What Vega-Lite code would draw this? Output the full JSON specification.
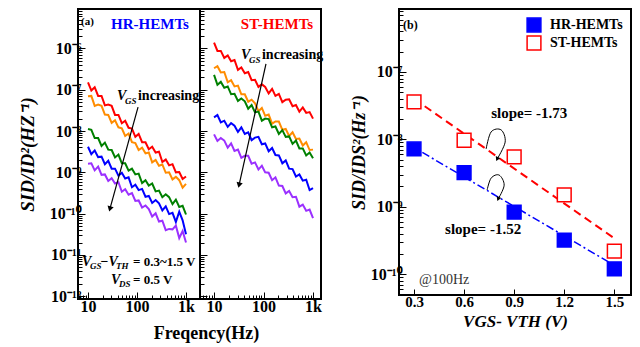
{
"$schema":"https://vega.github.io/schema/vega-lite/v6.json",
"background":"white",
"padding":{"left":17,"top":0,"right":2,"bottom":0},
"config":{"view":{"stroke":"black","strokeWidth":2},"font":"Liberation Serif",
"axis":{"domain":false,"grid":false,"tickColor":"black","tickWidth":1,"labelColor":"black","titleColor":"black","labelFont":"Liberation Serif","titleFont":"Liberation Serif","labelFontWeight":"bold","titleFontWeight":"bold"}},
"resolve":{"scale":{"stroke":"independent","fill":"independent","color":"independent"},"legend":{"stroke":"independent","fill":"independent","color":"independent"}},
"datasets":{
"spec":[
{"p":"HR","v":"0.3","f":10,"S":1.51e-7},{"p":"HR","v":"0.3","f":11.7,"S":9.55e-8},{"p":"HR","v":"0.3","f":13.7,"S":1.15e-7},{"p":"HR","v":"0.3","f":16.1,"S":7.08e-8},{"p":"HR","v":"0.3","f":18.9,"S":7.08e-8},{"p":"HR","v":"0.3","f":22.1,"S":4.17e-8},{"p":"HR","v":"0.3","f":25.9,"S":4.37e-8},{"p":"HR","v":"0.3","f":30.4,"S":4.07e-8},{"p":"HR","v":"0.3","f":35.6,"S":2.45e-8},{"p":"HR","v":"0.3","f":41.8,"S":2.45e-8},{"p":"HR","v":"0.3","f":49,"S":1.55e-8},{"p":"HR","v":"0.3","f":57.4,"S":1.78e-8},{"p":"HR","v":"0.3","f":67.3,"S":1.2e-8},{"p":"HR","v":"0.3","f":78.9,"S":1.15e-8},{"p":"HR","v":"0.3","f":92.5,"S":7.24e-9},{"p":"HR","v":"0.3","f":108,"S":8.5e-9},{"p":"HR","v":"0.3","f":127,"S":5.37e-9},{"p":"HR","v":"0.3","f":149,"S":5.37e-9},{"p":"HR","v":"0.3","f":174,"S":3.63e-9},{"p":"HR","v":"0.3","f":204,"S":4.17e-9},{"p":"HR","v":"0.3","f":240,"S":3.02e-9},{"p":"HR","v":"0.3","f":281,"S":3.16e-9},{"p":"HR","v":"0.3","f":329,"S":1.78e-9},{"p":"HR","v":"0.3","f":386,"S":2.04e-9},{"p":"HR","v":"0.3","f":452,"S":1.48e-9},{"p":"HR","v":"0.3","f":530,"S":1.58e-9},{"p":"HR","v":"0.3","f":621,"S":1e-9},{"p":"HR","v":"0.3","f":728,"S":1.02e-9},{"p":"HR","v":"0.3","f":853,"S":6.92e-10},{"p":"HR","v":"0.3","f":1000,"S":7.94e-10},
{"p":"HR","v":"0.6","f":10,"S":6.92e-8},{"p":"HR","v":"0.6","f":11.7,"S":7.08e-8},{"p":"HR","v":"0.6","f":13.7,"S":4.07e-8},{"p":"HR","v":"0.6","f":16.1,"S":4.37e-8},{"p":"HR","v":"0.6","f":18.9,"S":4.07e-8},{"p":"HR","v":"0.6","f":22.1,"S":2.51e-8},{"p":"HR","v":"0.6","f":25.9,"S":2.45e-8},{"p":"HR","v":"0.6","f":30.4,"S":1.58e-8},{"p":"HR","v":"0.6","f":35.6,"S":1.82e-8},{"p":"HR","v":"0.6","f":41.8,"S":1.23e-8},{"p":"HR","v":"0.6","f":49,"S":1.17e-8},{"p":"HR","v":"0.6","f":57.4,"S":7.59e-9},{"p":"HR","v":"0.6","f":67.3,"S":8.71e-9},{"p":"HR","v":"0.6","f":78.9,"S":5.37e-9},{"p":"HR","v":"0.6","f":92.5,"S":5.13e-9},{"p":"HR","v":"0.6","f":108,"S":3.47e-9},{"p":"HR","v":"0.6","f":127,"S":3.98e-9},{"p":"HR","v":"0.6","f":149,"S":2.88e-9},{"p":"HR","v":"0.6","f":174,"S":3.02e-9},{"p":"HR","v":"0.6","f":204,"S":1.74e-9},{"p":"HR","v":"0.6","f":240,"S":2e-9},{"p":"HR","v":"0.6","f":281,"S":1.45e-9},{"p":"HR","v":"0.6","f":329,"S":1.55e-9},{"p":"HR","v":"0.6","f":386,"S":9.77e-10},{"p":"HR","v":"0.6","f":452,"S":1e-9},{"p":"HR","v":"0.6","f":530,"S":6.76e-10},{"p":"HR","v":"0.6","f":621,"S":7.76e-10},{"p":"HR","v":"0.6","f":728,"S":6.46e-10},{"p":"HR","v":"0.6","f":853,"S":4.27e-10},{"p":"HR","v":"0.6","f":1000,"S":5.25e-10},
{"p":"HR","v":"0.9","f":10,"S":1.12e-8},{"p":"HR","v":"0.9","f":11.7,"S":1.07e-8},{"p":"HR","v":"0.9","f":13.7,"S":6.76e-9},{"p":"HR","v":"0.9","f":16.1,"S":6.76e-9},{"p":"HR","v":"0.9","f":18.9,"S":4.37e-9},{"p":"HR","v":"0.9","f":22.1,"S":5.25e-9},{"p":"HR","v":"0.9","f":25.9,"S":3.55e-9},{"p":"HR","v":"0.9","f":30.4,"S":3.47e-9},{"p":"HR","v":"0.9","f":35.6,"S":2.29e-9},{"p":"HR","v":"0.9","f":41.8,"S":2.69e-9},{"p":"HR","v":"0.9","f":49,"S":1.66e-9},{"p":"HR","v":"0.9","f":57.4,"S":1.66e-9},{"p":"HR","v":"0.9","f":67.3,"S":1.1e-9},{"p":"HR","v":"0.9","f":78.9,"S":1.23e-9},{"p":"HR","v":"0.9","f":92.5,"S":8.91e-10},{"p":"HR","v":"0.9","f":108,"S":9.33e-10},{"p":"HR","v":"0.9","f":127,"S":5.5e-10},{"p":"HR","v":"0.9","f":149,"S":6.46e-10},{"p":"HR","v":"0.9","f":174,"S":4.79e-10},{"p":"HR","v":"0.9","f":204,"S":5.37e-10},{"p":"HR","v":"0.9","f":240,"S":3.47e-10},{"p":"HR","v":"0.9","f":281,"S":3.63e-10},{"p":"HR","v":"0.9","f":329,"S":2.51e-10},{"p":"HR","v":"0.9","f":386,"S":2.95e-10},{"p":"HR","v":"0.9","f":452,"S":2.51e-10},{"p":"HR","v":"0.9","f":530,"S":1.7e-10},{"p":"HR","v":"0.9","f":621,"S":2.19e-10},{"p":"HR","v":"0.9","f":728,"S":1.45e-10},{"p":"HR","v":"0.9","f":853,"S":1.55e-10},{"p":"HR","v":"0.9","f":1000,"S":9.55e-11},
{"p":"HR","v":"1.2","f":10,"S":4.17e-9},{"p":"HR","v":"1.2","f":11.7,"S":2.75e-9},{"p":"HR","v":"1.2","f":13.7,"S":3.39e-9},{"p":"HR","v":"1.2","f":16.1,"S":2.34e-9},{"p":"HR","v":"1.2","f":18.9,"S":2.4e-9},{"p":"HR","v":"1.2","f":22.1,"S":1.58e-9},{"p":"HR","v":"1.2","f":25.9,"S":1.91e-9},{"p":"HR","v":"1.2","f":30.4,"S":1.23e-9},{"p":"HR","v":"1.2","f":35.6,"S":1.23e-9},{"p":"HR","v":"1.2","f":41.8,"S":8.32e-10},{"p":"HR","v":"1.2","f":49,"S":9.77e-10},{"p":"HR","v":"1.2","f":57.4,"S":7.08e-10},{"p":"HR","v":"1.2","f":67.3,"S":7.59e-10},{"p":"HR","v":"1.2","f":78.9,"S":4.37e-10},{"p":"HR","v":"1.2","f":92.5,"S":5.01e-10},{"p":"HR","v":"1.2","f":108,"S":3.72e-10},{"p":"HR","v":"1.2","f":127,"S":3.98e-10},{"p":"HR","v":"1.2","f":149,"S":2.57e-10},{"p":"HR","v":"1.2","f":174,"S":2.69e-10},{"p":"HR","v":"1.2","f":204,"S":1.82e-10},{"p":"HR","v":"1.2","f":240,"S":2.14e-10},{"p":"HR","v":"1.2","f":281,"S":1.78e-10},{"p":"HR","v":"1.2","f":329,"S":1.2e-10},{"p":"HR","v":"1.2","f":386,"S":1.51e-10},{"p":"HR","v":"1.2","f":452,"S":9.77e-11},{"p":"HR","v":"1.2","f":530,"S":1.05e-10},{"p":"HR","v":"1.2","f":621,"S":6.31e-11},{"p":"HR","v":"1.2","f":728,"S":1.12e-10},{"p":"HR","v":"1.2","f":853,"S":6.92e-11},{"p":"HR","v":"1.2","f":1000,"S":3.16e-11},
{"p":"HR","v":"1.5","f":10,"S":1.62e-9},{"p":"HR","v":"1.5","f":11.7,"S":1.66e-9},{"p":"HR","v":"1.5","f":13.7,"S":1.12e-9},{"p":"HR","v":"1.5","f":16.1,"S":1.38e-9},{"p":"HR","v":"1.5","f":18.9,"S":8.71e-10},{"p":"HR","v":"1.5","f":22.1,"S":8.91e-10},{"p":"HR","v":"1.5","f":25.9,"S":6.17e-10},{"p":"HR","v":"1.5","f":30.4,"S":7.24e-10},{"p":"HR","v":"1.5","f":35.6,"S":5.37e-10},{"p":"HR","v":"1.5","f":41.8,"S":5.75e-10},{"p":"HR","v":"1.5","f":49,"S":3.39e-10},{"p":"HR","v":"1.5","f":57.4,"S":3.89e-10},{"p":"HR","v":"1.5","f":67.3,"S":2.88e-10},{"p":"HR","v":"1.5","f":78.9,"S":3.16e-10},{"p":"HR","v":"1.5","f":92.5,"S":2.04e-10},{"p":"HR","v":"1.5","f":108,"S":2.09e-10},{"p":"HR","v":"1.5","f":127,"S":1.41e-10},{"p":"HR","v":"1.5","f":149,"S":1.58e-10},{"p":"HR","v":"1.5","f":174,"S":1.29e-10},{"p":"HR","v":"1.5","f":204,"S":8.51e-11},{"p":"HR","v":"1.5","f":240,"S":1.02e-10},{"p":"HR","v":"1.5","f":281,"S":6.46e-11},{"p":"HR","v":"1.5","f":329,"S":6.76e-11},{"p":"HR","v":"1.5","f":386,"S":3.98e-11},{"p":"HR","v":"1.5","f":452,"S":4.27e-11},{"p":"HR","v":"1.5","f":530,"S":4.17e-11},{"p":"HR","v":"1.5","f":621,"S":5.13e-11},{"p":"HR","v":"1.5","f":728,"S":2.57e-11},{"p":"HR","v":"1.5","f":853,"S":3.8e-11},{"p":"HR","v":"1.5","f":1000,"S":2e-11},
{"p":"ST","v":"0.3","f":10,"S":1.38e-6},{"p":"ST","v":"0.3","f":11.7,"S":8.71e-7},{"p":"ST","v":"0.3","f":13.7,"S":8.71e-7},{"p":"ST","v":"0.3","f":16.1,"S":5.89e-7},{"p":"ST","v":"0.3","f":18.9,"S":6.76e-7},{"p":"ST","v":"0.3","f":22.1,"S":4.9e-7},{"p":"ST","v":"0.3","f":25.9,"S":5.25e-7},{"p":"ST","v":"0.3","f":30.4,"S":3.02e-7},{"p":"ST","v":"0.3","f":35.6,"S":3.47e-7},{"p":"ST","v":"0.3","f":41.8,"S":2.51e-7},{"p":"ST","v":"0.3","f":49,"S":2.69e-7},{"p":"ST","v":"0.3","f":57.4,"S":1.7e-7},{"p":"ST","v":"0.3","f":67.3,"S":1.74e-7},{"p":"ST","v":"0.3","f":78.9,"S":1.17e-7},{"p":"ST","v":"0.3","f":92.5,"S":1.35e-7},{"p":"ST","v":"0.3","f":108,"S":1.17e-7},{"p":"ST","v":"0.3","f":127,"S":8.13e-8},{"p":"ST","v":"0.3","f":149,"S":1.05e-7},{"p":"ST","v":"0.3","f":174,"S":7.08e-8},{"p":"ST","v":"0.3","f":204,"S":7.94e-8},{"p":"ST","v":"0.3","f":240,"S":5.01e-8},{"p":"ST","v":"0.3","f":281,"S":5.75e-8},{"p":"ST","v":"0.3","f":329,"S":5.89e-8},{"p":"ST","v":"0.3","f":386,"S":3.98e-8},{"p":"ST","v":"0.3","f":452,"S":4.27e-8},{"p":"ST","v":"0.3","f":530,"S":2.95e-8},{"p":"ST","v":"0.3","f":621,"S":3.72e-8},{"p":"ST","v":"0.3","f":728,"S":2.75e-8},{"p":"ST","v":"0.3","f":853,"S":2.88e-8},{"p":"ST","v":"0.3","f":1000,"S":2e-8},
{"p":"ST","v":"0.6","f":10,"S":3.31e-7},{"p":"ST","v":"0.6","f":11.7,"S":3.72e-7},{"p":"ST","v":"0.6","f":13.7,"S":2.63e-7},{"p":"ST","v":"0.6","f":16.1,"S":2.69e-7},{"p":"ST","v":"0.6","f":18.9,"S":1.51e-7},{"p":"ST","v":"0.6","f":22.1,"S":1.7e-7},{"p":"ST","v":"0.6","f":25.9,"S":1.2e-7},{"p":"ST","v":"0.6","f":30.4,"S":1.26e-7},{"p":"ST","v":"0.6","f":35.6,"S":7.76e-8},{"p":"ST","v":"0.6","f":41.8,"S":7.76e-8},{"p":"ST","v":"0.6","f":49,"S":5.13e-8},{"p":"ST","v":"0.6","f":57.4,"S":5.75e-8},{"p":"ST","v":"0.6","f":67.3,"S":4.68e-8},{"p":"ST","v":"0.6","f":78.9,"S":3.02e-8},{"p":"ST","v":"0.6","f":92.5,"S":3.63e-8},{"p":"ST","v":"0.6","f":108,"S":2.34e-8},{"p":"ST","v":"0.6","f":127,"S":2.51e-8},{"p":"ST","v":"0.6","f":149,"S":1.51e-8},{"p":"ST","v":"0.6","f":174,"S":1.7e-8},{"p":"ST","v":"0.6","f":204,"S":1.7e-8},{"p":"ST","v":"0.6","f":240,"S":1.07e-8},{"p":"ST","v":"0.6","f":281,"S":1.12e-8},{"p":"ST","v":"0.6","f":329,"S":7.59e-9},{"p":"ST","v":"0.6","f":386,"S":9.33e-9},{"p":"ST","v":"0.6","f":452,"S":6.46e-9},{"p":"ST","v":"0.6","f":530,"S":6.61e-9},{"p":"ST","v":"0.6","f":621,"S":4.47e-9},{"p":"ST","v":"0.6","f":728,"S":5.37e-9},{"p":"ST","v":"0.6","f":853,"S":3.47e-9},{"p":"ST","v":"0.6","f":1000,"S":3.55e-9},
{"p":"ST","v":"0.9","f":10,"S":2.29e-7},{"p":"ST","v":"0.9","f":11.7,"S":1.32e-7},{"p":"ST","v":"0.9","f":13.7,"S":1.55e-7},{"p":"ST","v":"0.9","f":16.1,"S":1.12e-7},{"p":"ST","v":"0.9","f":18.9,"S":1.2e-7},{"p":"ST","v":"0.9","f":22.1,"S":7.76e-8},{"p":"ST","v":"0.9","f":25.9,"S":7.94e-8},{"p":"ST","v":"0.9","f":30.4,"S":5.37e-8},{"p":"ST","v":"0.9","f":35.6,"S":6.17e-8},{"p":"ST","v":"0.9","f":41.8,"S":5.25e-8},{"p":"ST","v":"0.9","f":49,"S":3.47e-8},{"p":"ST","v":"0.9","f":57.4,"S":4.27e-8},{"p":"ST","v":"0.9","f":67.3,"S":2.82e-8},{"p":"ST","v":"0.9","f":78.9,"S":2.95e-8},{"p":"ST","v":"0.9","f":92.5,"S":1.78e-8},{"p":"ST","v":"0.9","f":108,"S":2e-8},{"p":"ST","v":"0.9","f":127,"S":1.95e-8},{"p":"ST","v":"0.9","f":149,"S":1.23e-8},{"p":"ST","v":"0.9","f":174,"S":1.29e-8},{"p":"ST","v":"0.9","f":204,"S":8.51e-9},{"p":"ST","v":"0.9","f":240,"S":1.05e-8},{"p":"ST","v":"0.9","f":281,"S":7.24e-9},{"p":"ST","v":"0.9","f":329,"S":7.41e-9},{"p":"ST","v":"0.9","f":386,"S":4.9e-9},{"p":"ST","v":"0.9","f":452,"S":5.89e-9},{"p":"ST","v":"0.9","f":530,"S":3.8e-9},{"p":"ST","v":"0.9","f":621,"S":3.8e-9},{"p":"ST","v":"0.9","f":728,"S":2.57e-9},{"p":"ST","v":"0.9","f":853,"S":3.02e-9},{"p":"ST","v":"0.9","f":1000,"S":2.19e-9},
{"p":"ST","v":"1.2","f":10,"S":2.14e-8},{"p":"ST","v":"1.2","f":11.7,"S":2.45e-8},{"p":"ST","v":"1.2","f":13.7,"S":1.62e-8},{"p":"ST","v":"1.2","f":16.1,"S":1.78e-8},{"p":"ST","v":"1.2","f":18.9,"S":1.26e-8},{"p":"ST","v":"1.2","f":22.1,"S":1.55e-8},{"p":"ST","v":"1.2","f":25.9,"S":1.35e-8},{"p":"ST","v":"1.2","f":30.4,"S":9.55e-9},{"p":"ST","v":"1.2","f":35.6,"S":1.23e-8},{"p":"ST","v":"1.2","f":41.8,"S":8.51e-9},{"p":"ST","v":"1.2","f":49,"S":9.33e-9},{"p":"ST","v":"1.2","f":57.4,"S":6.03e-9},{"p":"ST","v":"1.2","f":67.3,"S":6.92e-9},{"p":"ST","v":"1.2","f":78.9,"S":7.24e-9},{"p":"ST","v":"1.2","f":92.5,"S":4.79e-9},{"p":"ST","v":"1.2","f":108,"S":5.01e-9},{"p":"ST","v":"1.2","f":127,"S":3.24e-9},{"p":"ST","v":"1.2","f":149,"S":3.89e-9},{"p":"ST","v":"1.2","f":174,"S":2.63e-9},{"p":"ST","v":"1.2","f":204,"S":2.57e-9},{"p":"ST","v":"1.2","f":240,"S":1.66e-9},{"p":"ST","v":"1.2","f":281,"S":1.95e-9},{"p":"ST","v":"1.2","f":329,"S":1.23e-9},{"p":"ST","v":"1.2","f":386,"S":1.2e-9},{"p":"ST","v":"1.2","f":452,"S":7.94e-10},{"p":"ST","v":"1.2","f":530,"S":8.91e-10},{"p":"ST","v":"1.2","f":621,"S":6.31e-10},{"p":"ST","v":"1.2","f":728,"S":6.61e-10},{"p":"ST","v":"1.2","f":853,"S":3.72e-10},{"p":"ST","v":"1.2","f":1000,"S":4.17e-10},
{"p":"ST","v":"1.5","f":10,"S":8.32e-9},{"p":"ST","v":"1.5","f":11.7,"S":5.75e-9},{"p":"ST","v":"1.5","f":13.7,"S":6.76e-9},{"p":"ST","v":"1.5","f":16.1,"S":5.89e-9},{"p":"ST","v":"1.5","f":18.9,"S":3.98e-9},{"p":"ST","v":"1.5","f":22.1,"S":5.01e-9},{"p":"ST","v":"1.5","f":25.9,"S":3.31e-9},{"p":"ST","v":"1.5","f":30.4,"S":3.55e-9},{"p":"ST","v":"1.5","f":35.6,"S":2.24e-9},{"p":"ST","v":"1.5","f":41.8,"S":2.51e-9},{"p":"ST","v":"1.5","f":49,"S":2.51e-9},{"p":"ST","v":"1.5","f":57.4,"S":1.62e-9},{"p":"ST","v":"1.5","f":67.3,"S":1.74e-9},{"p":"ST","v":"1.5","f":78.9,"S":1.17e-9},{"p":"ST","v":"1.5","f":92.5,"S":1.45e-9},{"p":"ST","v":"1.5","f":108,"S":1e-9},{"p":"ST","v":"1.5","f":127,"S":9.77e-10},{"p":"ST","v":"1.5","f":149,"S":6.46e-10},{"p":"ST","v":"1.5","f":174,"S":7.59e-10},{"p":"ST","v":"1.5","f":204,"S":4.79e-10},{"p":"ST","v":"1.5","f":240,"S":4.68e-10},{"p":"ST","v":"1.5","f":281,"S":3.09e-10},{"p":"ST","v":"1.5","f":329,"S":3.55e-10},{"p":"ST","v":"1.5","f":386,"S":2.51e-10},{"p":"ST","v":"1.5","f":452,"S":2.57e-10},{"p":"ST","v":"1.5","f":530,"S":1.48e-10},{"p":"ST","v":"1.5","f":621,"S":1.66e-10},{"p":"ST","v":"1.5","f":728,"S":1.17e-10},{"p":"ST","v":"1.5","f":853,"S":1.26e-10},{"p":"ST","v":"1.5","f":1000,"S":7.76e-11}
],
"pts":[
{"g":"HR-HEMTs","x":0.3,"S":7.2e-9},{"g":"HR-HEMTs","x":0.6,"S":3.2e-9},{"g":"HR-HEMTs","x":0.9,"S":8.3e-10},{"g":"HR-HEMTs","x":1.2,"S":3.2e-10},{"g":"HR-HEMTs","x":1.5,"S":1.2e-10},
{"g":"ST-HEMTs","x":0.3,"S":3.6e-8},{"g":"ST-HEMTs","x":0.6,"S":9.7e-9},{"g":"ST-HEMTs","x":0.9,"S":5.5e-9},{"g":"ST-HEMTs","x":1.2,"S":1.5e-9},{"g":"ST-HEMTs","x":1.5,"S":2.2e-10}
],
"fit":[
{"g":"ST-HEMTs","x":0.3,"S":4e-8},{"g":"ST-HEMTs","x":1.5,"S":3.4e-10},
{"g":"HR-HEMTs","x":0.35,"S":6.4e-9},{"g":"HR-HEMTs","x":1.5,"S":1.35e-10}
],
"curve":[
{"c":"a","o":1,"x":0.732,"S":7.2e-9},{"c":"a","o":2,"x":0.762,"S":1.29e-8},{"c":"a","o":3,"x":0.822,"S":1.38e-8},{"c":"a","o":4,"x":0.846,"S":9.1e-9},{"c":"a","o":5,"x":0.798,"S":5.1e-9},
{"c":"b","o":1,"x":0.738,"S":1.77e-9},{"c":"b","o":2,"x":0.762,"S":2.66e-9},{"c":"b","o":3,"x":0.81,"S":2.95e-9},{"c":"b","o":4,"x":0.84,"S":2.09e-9},{"c":"b","o":5,"x":0.804,"S":1.3e-9}
]
},
"spacing":24,
"hconcat":[
{"spacing":0,"bounds":"flush","hconcat":[
{"width":122,"height":290,
"layer":[
{"data":{"name":"spec"},"transform":[{"filter":"datum.p=='HR'"}],
"mark":{"type":"line","strokeWidth":2,"clip":true},
"encoding":{
"x":{"field":"f","type":"quantitative","scale":{"type":"log","domain":[6.25,1930],"nice":false},
"axis":{"title":"Freqency(Hz)","titleX":128,"titleY":34,"titleAlign":"center","titleBaseline":"middle","titleFontSize":18,"tickCount":30,"labelOverlap":false,"labelFlush":false,"labelFontSize":16,"labelPadding":6,
"labelExpr":"datum.value==10?'10':datum.value==100?'100':datum.value==1000?'1k':''",
"tickSize":{"condition":{"test":"datum.value==10||datum.value==100||datum.value==1000","value":-7},"value":-4}}},
"y":{"field":"S","type":"quantitative","scale":{"type":"log","domain":[8.6e-13,9e-6],"nice":false},
"axis":{"title":"SID/ID²(HZ⁻¹)","titleFontSize":19,"titleFontStyle":"italic","titlePadding":12,"tickCount":40,"labelOverlap":false,"labelFlush":false,"labelFontSize":16,"labelPadding":4,
"labelExpr":"abs(log(datum.value)/LN10-round(log(datum.value)/LN10))<0.001 ? '10'+replace(replace(replace(replace(replace(replace(replace(replace(replace(replace(replace(''+round(log(datum.value)/LN10),'-','⁻'),regexp('1','g'),'¹'),'2','²'),'0','⁰'),'3','³'),'4','⁴'),'5','⁵'),'6','⁶'),'7','⁷'),'8','⁸'),'9','⁹') : ''",
"tickSize":{"condition":{"test":"abs(log(datum.value)/LN10-round(log(datum.value)/LN10))<0.001","value":-7},"value":-4}}},
"color":{"field":"v","type":"nominal","scale":{"domain":["0.3","0.6","0.9","1.2","1.5"],"range":["#ff0000","#ff8c00","#008000","#0000ff","#9b30ff"]},"legend":null}}},
{"data":{"values":[{}]},"mark":{"type":"text","text":"(a)","font":"Liberation Serif","fontWeight":"bold","fontSize":11,"align":"left","baseline":"middle","color":"black"},"encoding":{"x":{"datum":7.2},"y":{"datum":4.4e-6}}},
{"data":{"values":[{}]},"mark":{"type":"text","text":"HR-HEMTs","font":"Liberation Serif","fontWeight":"bold","fontSize":15,"align":"center","baseline":"middle","color":"#0000ff"},"encoding":{"x":{"datum":184},"y":{"datum":3.9e-6}}},
{"data":{"values":[{}]},"mark":{"type":"text","text":"V","font":"Liberation Serif","fontWeight":"bold","fontStyle":"italic","fontSize":14,"align":"left","baseline":"middle","color":"black"},"encoding":{"x":{"datum":39},"y":{"datum":7e-8}}},
{"data":{"values":[{}]},"mark":{"type":"text","text":"GS","dx":8,"dy":5,"font":"Liberation Serif","fontWeight":"bold","fontStyle":"italic","fontSize":9,"align":"left","baseline":"middle","color":"black"},"encoding":{"x":{"datum":39},"y":{"datum":7e-8}}},
{"data":{"values":[{}]},"mark":{"type":"text","text":"increasing","dx":21,"font":"Liberation Serif","fontWeight":"bold","fontSize":14,"align":"left","baseline":"middle","color":"black"},"encoding":{"x":{"datum":39},"y":{"datum":7e-8}}},
{"data":{"values":[{}]},"mark":{"type":"rule","color":"black","strokeWidth":1.2},"encoding":{"x":{"datum":105},"y":{"datum":3.8e-8},"x2":{"datum":28},"y2":{"datum":1.3e-10}}},
{"data":{"values":[{}]},"mark":{"type":"point","shape":"triangle-down","angle":15,"size":40,"filled":true,"color":"black","opacity":1},"encoding":{"x":{"datum":28},"y":{"datum":1.3e-10}}},
{"data":{"values":[{}]},"mark":{"type":"text","text":"V","font":"Liberation Serif","fontWeight":"bold","fontStyle":"italic","fontSize":14,"align":"left","baseline":"middle","color":"black"},"encoding":{"x":{"datum":7.55},"y":{"datum":6.8e-12}}},
{"data":{"values":[{}]},"mark":{"type":"text","text":"GS","dx":8,"dy":4,"font":"Liberation Serif","fontWeight":"bold","fontStyle":"italic","fontSize":9,"align":"left","baseline":"middle","color":"black"},"encoding":{"x":{"datum":7.55},"y":{"datum":6.8e-12}}},
{"data":{"values":[{}]},"mark":{"type":"text","text":"−V","dx":18,"font":"Liberation Serif","fontWeight":"bold","fontStyle":"italic","fontSize":14,"align":"left","baseline":"middle","color":"black"},"encoding":{"x":{"datum":7.55},"y":{"datum":6.8e-12}}},
{"data":{"values":[{}]},"mark":{"type":"text","text":"TH","dx":34,"dy":4,"font":"Liberation Serif","fontWeight":"bold","fontStyle":"italic","fontSize":9,"align":"left","baseline":"middle","color":"black"},"encoding":{"x":{"datum":7.55},"y":{"datum":6.8e-12}}},
{"data":{"values":[{}]},"mark":{"type":"text","text":"= 0.3~1.5 V","dx":51,"font":"Liberation Serif","fontWeight":"bold","fontSize":13,"align":"left","baseline":"middle","color":"black"},"encoding":{"x":{"datum":7.55},"y":{"datum":6.8e-12}}},
{"data":{"values":[{}]},"mark":{"type":"text","text":"V","font":"Liberation Serif","fontWeight":"bold","fontStyle":"italic","fontSize":14,"align":"left","baseline":"middle","color":"black"},"encoding":{"x":{"datum":29.5},"y":{"datum":2.45e-12}}},
{"data":{"values":[{}]},"mark":{"type":"text","text":"DS","dx":8,"dy":4,"font":"Liberation Serif","fontWeight":"bold","fontStyle":"italic","fontSize":9,"align":"left","baseline":"middle","color":"black"},"encoding":{"x":{"datum":29.5},"y":{"datum":2.45e-12}}},
{"data":{"values":[{}]},"mark":{"type":"text","text":"= 0.5 V","dx":22,"font":"Liberation Serif","fontWeight":"bold","fontSize":13,"align":"left","baseline":"middle","color":"black"},"encoding":{"x":{"datum":29.5},"y":{"datum":2.45e-12}}}
]},
{"width":121,"height":290,
"layer":[
{"data":{"name":"spec"},"transform":[{"filter":"datum.p=='ST'"}],
"mark":{"type":"line","strokeWidth":2,"clip":true},
"encoding":{
"x":{"field":"f","type":"quantitative","scale":{"type":"log","domain":[5.2,1450],"nice":false},
"axis":{"title":null,"tickCount":30,"labelOverlap":false,"labelFlush":false,"labelFontSize":16,"labelPadding":6,
"labelExpr":"datum.value==10?'10':datum.value==100?'100':datum.value==1000?'1k':''",
"tickSize":{"condition":{"test":"datum.value==10||datum.value==100||datum.value==1000","value":-7},"value":-4}}},
"y":{"field":"S","type":"quantitative","scale":{"type":"log","domain":[8.6e-13,9e-6],"nice":false},
"axis":{"title":null,"labels":false,"tickCount":40,
"tickSize":{"condition":{"test":"abs(log(datum.value)/LN10-round(log(datum.value)/LN10))<0.001","value":-7},"value":-4}}},
"color":{"field":"v","type":"nominal","scale":{"domain":["0.3","0.6","0.9","1.2","1.5"],"range":["#ff0000","#ff8c00","#008000","#0000ff","#9b30ff"]},"legend":null}}},
{"data":{"values":[{}]},"mark":{"type":"text","text":"ST-HEMTs","font":"Liberation Serif","fontWeight":"bold","fontSize":15,"align":"center","baseline":"middle","color":"#ff0000"},"encoding":{"x":{"datum":187},"y":{"datum":3.9e-6}}},
{"data":{"values":[{}]},"mark":{"type":"text","text":"V","font":"Liberation Serif","fontWeight":"bold","fontStyle":"italic","fontSize":14,"align":"left","baseline":"middle","color":"black"},"encoding":{"x":{"datum":35},"y":{"datum":6.9e-7}}},
{"data":{"values":[{}]},"mark":{"type":"text","text":"GS","dx":8,"dy":5,"font":"Liberation Serif","fontWeight":"bold","fontStyle":"italic","fontSize":9,"align":"left","baseline":"middle","color":"black"},"encoding":{"x":{"datum":35},"y":{"datum":6.9e-7}}},
{"data":{"values":[{}]},"mark":{"type":"text","text":"increasing","dx":21,"font":"Liberation Serif","fontWeight":"bold","fontSize":14,"align":"left","baseline":"middle","color":"black"},"encoding":{"x":{"datum":35},"y":{"datum":6.9e-7}}},
{"data":{"values":[{}]},"mark":{"type":"rule","color":"black","strokeWidth":1.2},"encoding":{"x":{"datum":112},"y":{"datum":4.2e-7},"x2":{"datum":32},"y2":{"datum":4.9e-10}}},
{"data":{"values":[{}]},"mark":{"type":"point","shape":"triangle-down","angle":13,"size":40,"filled":true,"color":"black","opacity":1},"encoding":{"x":{"datum":32},"y":{"datum":4.9e-10}}}
]}
]},
{"width":232,"height":286,
"resolve":{"legend":{"stroke":"shared","fill":"shared"}},
"layer":[
{"data":{"name":"fit"},"transform":[{"filter":"datum.g=='ST-HEMTs'"}],"mark":{"type":"line","color":"#ff0000","strokeWidth":2,"strokeDash":[8,5]},
"encoding":{
"x":{"field":"x","type":"quantitative","scale":{"domain":[0.21,1.6],"nice":false,"zero":false},
"axis":{"title":"VGS- VTH (V)","titleFontSize":17,"titleFontStyle":"italic","titlePadding":4,"values":[0.3,0.6,0.9,1.2,1.5],"format":".1f","labelFontSize":15,"labelPadding":5,"labelFlush":false,"tickSize":-6}},
"y":{"field":"S","type":"quantitative","scale":{"type":"log","domain":[4.9e-11,8.6e-7],"nice":false},
"axis":{"title":"SID/IDS²(Hz⁻¹)","titleFontSize":18,"titleFontStyle":"italic","titlePadding":2,"tickCount":40,"labelOverlap":false,"labelFlush":false,"labelFontSize":16,"labelPadding":4,
"labelExpr":"abs(log(datum.value)/LN10-round(log(datum.value)/LN10))<0.001 ? '10'+replace(replace(replace(replace(replace(replace(replace(replace(replace(replace(replace(''+round(log(datum.value)/LN10),'-','⁻'),regexp('1','g'),'¹'),'2','²'),'0','⁰'),'3','³'),'4','⁴'),'5','⁵'),'6','⁶'),'7','⁷'),'8','⁸'),'9','⁹') : ''",
"tickSize":{"condition":{"test":"abs(log(datum.value)/LN10-round(log(datum.value)/LN10))<0.001","value":-7},"value":-4}}}}},
{"data":{"name":"fit"},"transform":[{"filter":"datum.g=='HR-HEMTs'"}],"mark":{"type":"line","color":"#0000ff","strokeWidth":1.5,"strokeDash":[8,3,2,3]},
"encoding":{"x":{"field":"x","type":"quantitative"},"y":{"field":"S","type":"quantitative"}}},
{"data":{"name":"pts"},"mark":{"type":"point","shape":"square","size":190,"strokeWidth":1.5,"opacity":1},
"encoding":{"x":{"field":"x","type":"quantitative"},"y":{"field":"S","type":"quantitative"},
"stroke":{"field":"g","type":"nominal","scale":{"domain":["HR-HEMTs","ST-HEMTs"],"range":["#0000ff","#ff0000"]},
"legend":{"orient":"top-right","title":null,"offset":8,"symbolSize":190,"symbolStrokeWidth":1.5,"symbolType":"square","labelOffset":8,"labelFont":"Liberation Serif","labelFontWeight":"bold","labelFontSize":14,"rowPadding":-13,"encode":{"labels":{"update":{"fill":{"signal":"datum.label=='HR-HEMTs'?'#0000ff':'#ff0000'"}}}}}},
"fill":{"field":"g","type":"nominal","scale":{"domain":["HR-HEMTs","ST-HEMTs"],"range":["#0000ff","#ffffff"]},
"legend":{"orient":"top-right","title":null,"offset":8,"symbolSize":190,"symbolStrokeWidth":1.5,"symbolType":"square","labelOffset":8,"labelFont":"Liberation Serif","labelFontWeight":"bold","labelFontSize":14,"rowPadding":-13,"encode":{"labels":{"update":{"fill":{"signal":"datum.label=='HR-HEMTs'?'#0000ff':'#ff0000'"}}}}}}}},
{"data":{"name":"curve"},"mark":{"type":"line","color":"black","strokeWidth":1,"interpolate":"cardinal"},"encoding":{"x":{"field":"x","type":"quantitative"},"y":{"field":"S","type":"quantitative"},"detail":{"field":"c"},"order":{"field":"o"}}},
{"data":{"values":[{}]},"mark":{"type":"point","shape":"triangle-down","angle":25,"size":25,"filled":true,"color":"black","opacity":1},"encoding":{"x":{"datum":0.798},"y":{"datum":5.1e-9}}},
{"data":{"values":[{}]},"mark":{"type":"point","shape":"triangle-down","angle":23,"size":25,"filled":true,"color":"black","opacity":1},"encoding":{"x":{"datum":0.804},"y":{"datum":1.3e-9}}},
{"data":{"values":[{}]},"mark":{"type":"text","text":"slope= -1.73","font":"Liberation Serif","fontWeight":"bold","fontSize":15,"align":"center","baseline":"middle","color":"black"},"encoding":{"x":{"datum":0.99},"y":{"datum":2.5e-8}}},
{"data":{"values":[{}]},"mark":{"type":"text","text":"slope= -1.52","font":"Liberation Serif","fontWeight":"bold","fontSize":15,"align":"center","baseline":"middle","color":"black"},"encoding":{"x":{"datum":0.714},"y":{"datum":4.7e-10}}},
{"data":{"values":[{}]},"mark":{"type":"text","text":"@100Hz","font":"Liberation Serif","fontSize":14,"align":"left","baseline":"middle","color":"#333333"},"encoding":{"x":{"datum":0.33},"y":{"datum":8.3e-11}}},
{"data":{"values":[{}]},"mark":{"type":"text","text":"(b)","font":"Liberation Serif","fontWeight":"bold","fontSize":12,"align":"left","baseline":"middle","color":"black"},"encoding":{"x":{"datum":0.234},"y":{"datum":5e-7}}}
]}
]
}
